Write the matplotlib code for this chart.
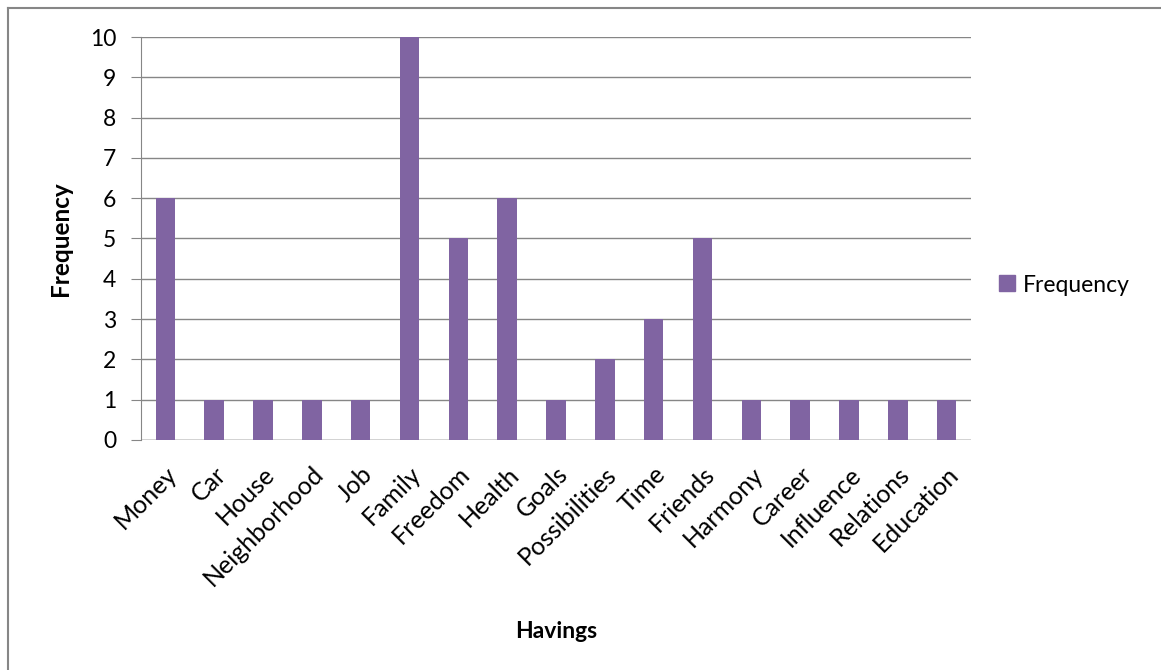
import matplotlib.pyplot as plt
from matplotlib.lines import Line2D

# chart data
havings = ["Money", "Car", "House", "Neighborhood", "Job", "Family", "Freedom",
           "Health", "Goals", "Possibilities", "Time", "Friends", "Harmony",
           "Career", "Influence", "Relations", "Education"]
frequency = [6, 1, 1, 1, 1, 10, 5, 6, 1, 2, 3, 5, 1, 1, 1, 1, 1]
y_ticks = list(range(0, 11))

plt.rcParams['font.family'] = ['Lato', 'DejaVu Sans']

fig = plt.figure(figsize=(11.61, 6.70), dpi=100)
ax = fig.add_axes([141 / 1161, 230 / 670, 830 / 1161, 403 / 670])

pos = list(range(len(havings)))
ax.bar(pos, frequency, width=0.4, color="#8064A2", zorder=3, label="Frequency")

ax.set_xlim(-0.5, len(havings) - 0.5)
ax.set_ylim(0, 10)
ax.set_yticks(y_ticks)
ax.yaxis.grid(True, color="#868686", linewidth=1)
ax.set_axisbelow(True)

for s in ["top", "right", "bottom"]:
    ax.spines[s].set_visible(False)
ax.spines["left"].set_color("#868686")
ax.axhline(0, color="#868686", linewidth=1, zorder=2)

ax.tick_params(axis="y", length=7, color="#868686", labelsize=16.5, pad=11)
ax.tick_params(axis="x", length=0, labelsize=18, pad=16)
ax.set_xticks(pos)
ax.set_xticklabels(havings, rotation=45, ha="right", rotation_mode="anchor")

ax.set_ylabel("Frequency", fontsize=17.5, fontweight="bold")
ax.yaxis.set_label_coords(-0.083, 0.5)
ax.set_xlabel("Havings", fontsize=16.5, fontweight="bold")
ax.xaxis.set_label_coords(0.5, -0.45)

handle = Line2D([], [], marker="s", linestyle="none", markersize=11,
                color="#8064A2")
fig.legend([handle], ["Frequency"], loc="center left", frameon=False,
           bbox_to_anchor=(975 / 1161, 1 - 285 / 670), fontsize=16.5,
           handletextpad=0.2, handlelength=1.0)

# frame lines along the top and left edge
fig.add_artist(Line2D([8 / 1161, 1], [1 - 8 / 670, 1 - 8 / 670],
                      transform=fig.transFigure, color="#868686", linewidth=1.5))
fig.add_artist(Line2D([8 / 1161, 8 / 1161], [0, 1 - 8 / 670],
                      transform=fig.transFigure, color="#868686", linewidth=1.5))

fig.savefig("out.png", dpi=100, facecolor="white")
